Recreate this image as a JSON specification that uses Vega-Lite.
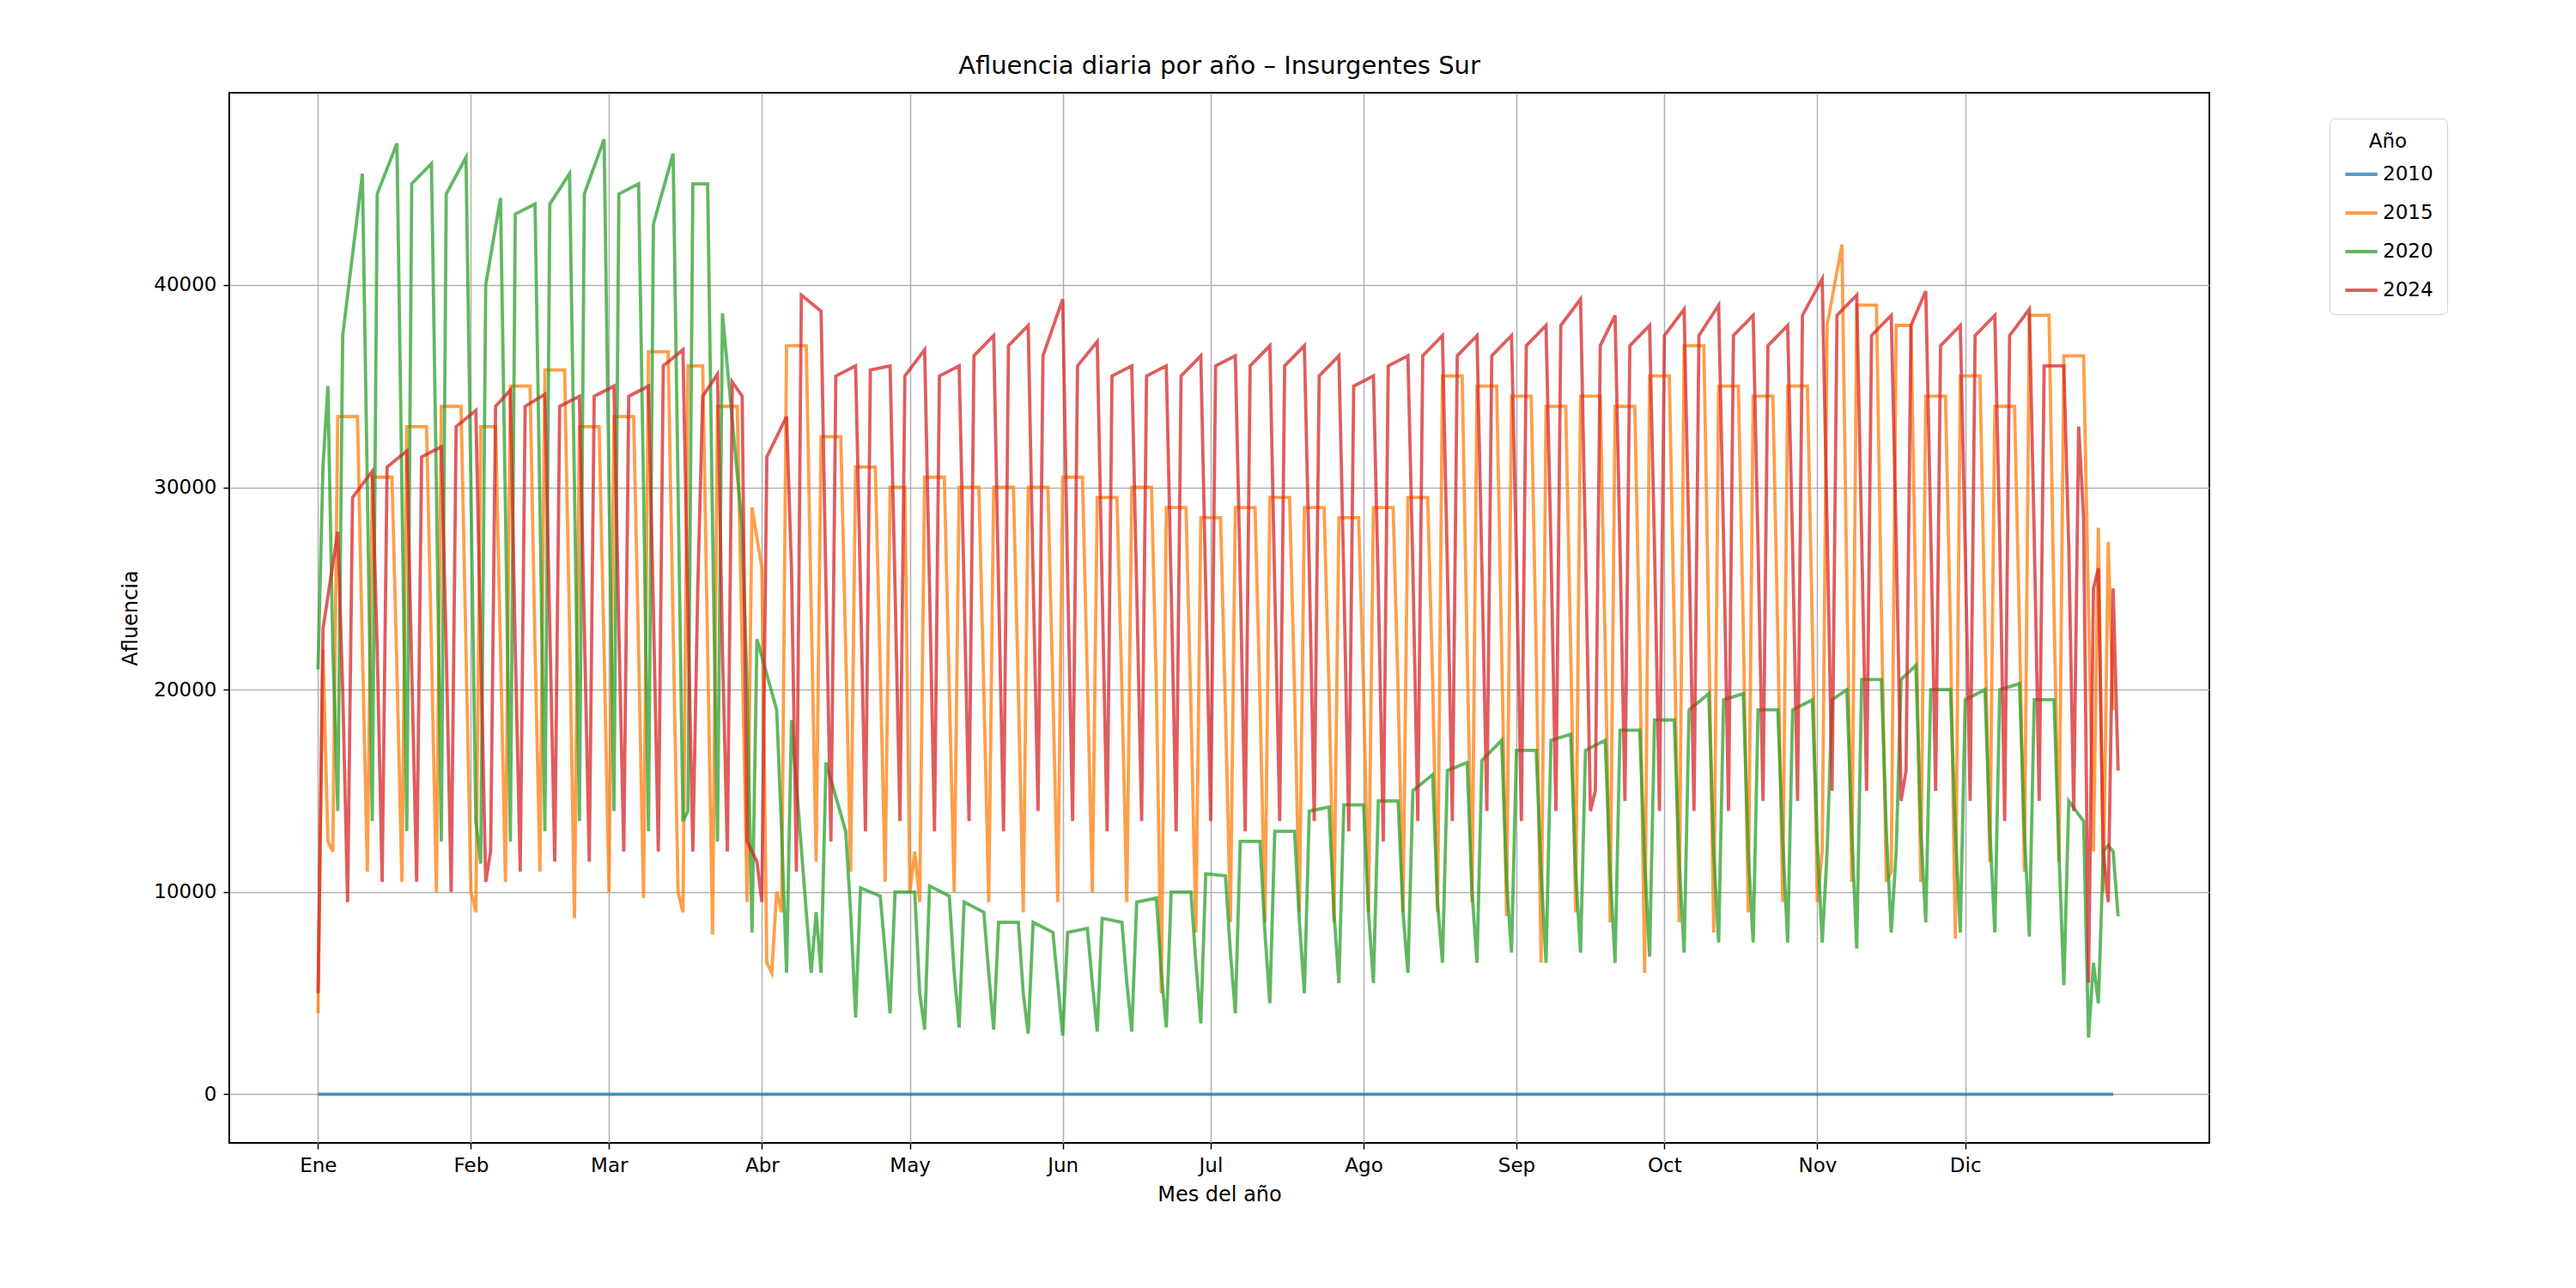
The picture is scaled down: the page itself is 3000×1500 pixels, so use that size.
{
  "$schema": "https://vega.github.io/schema/vega-lite/v6.json",
  "autosize": "none",
  "width": 2306,
  "height": 1223,
  "padding": {"left": 267, "top": 108, "right": 427, "bottom": 169},
  "background": "white",
  "title": {"text": "Afluencia diaria por año – Insurgentes Sur", "fontSize": 29, "font": "DejaVu Sans", "fontWeight": "normal", "offset": 16},
  "config": {
    "font": "DejaVu Sans",
    "view": {"stroke": "black", "strokeWidth": 2},
    "axis": {"labelFont": "DejaVu Sans", "titleFont": "DejaVu Sans", "labelFontSize": 23, "titleFontSize": 24, "titleFontWeight": "normal", "labelColor": "black", "titleColor": "black", "gridColor": "#b0b0b0", "gridWidth": 1.5, "tickColor": "black", "tickSize": 7, "tickWidth": 1.5, "domain": false}
  },
  "data": {"values": [
    {"a":"2010","d":1,"v":0},{"a":"2010","d":365,"v":0},

    {"a":"2015","d":1,"v":4000},{"a":"2015","d":2,"v":22000},{"a":"2015","d":3,"v":12500},{"a":"2015","d":4,"v":12000},
    {"a":"2015","d":5,"v":33500},{"a":"2015","d":9,"v":33500},{"a":"2015","d":10,"v":22000},{"a":"2015","d":11,"v":11000},
    {"a":"2015","d":12,"v":30500},{"a":"2015","d":16,"v":30500},{"a":"2015","d":17,"v":21000},{"a":"2015","d":18,"v":10500},
    {"a":"2015","d":19,"v":33000},{"a":"2015","d":23,"v":33000},{"a":"2015","d":24,"v":22000},{"a":"2015","d":25,"v":10000},
    {"a":"2015","d":26,"v":34000},{"a":"2015","d":30,"v":34000},{"a":"2015","d":31,"v":22000},{"a":"2015","d":32,"v":10000},
    {"a":"2015","d":33,"v":9000},{"a":"2015","d":34,"v":33000},{"a":"2015","d":37,"v":33000},{"a":"2015","d":38,"v":22000},{"a":"2015","d":39,"v":10500},
    {"a":"2015","d":40,"v":35000},{"a":"2015","d":44,"v":35000},{"a":"2015","d":45,"v":22000},{"a":"2015","d":46,"v":11000},
    {"a":"2015","d":47,"v":35800},{"a":"2015","d":51,"v":35800},{"a":"2015","d":52,"v":23000},{"a":"2015","d":53,"v":8700},
    {"a":"2015","d":54,"v":33000},{"a":"2015","d":58,"v":33000},{"a":"2015","d":59,"v":22000},{"a":"2015","d":60,"v":10000},
    {"a":"2015","d":61,"v":33500},{"a":"2015","d":65,"v":33500},{"a":"2015","d":66,"v":22000},{"a":"2015","d":67,"v":9700},
    {"a":"2015","d":68,"v":36700},{"a":"2015","d":72,"v":36700},{"a":"2015","d":73,"v":23000},{"a":"2015","d":74,"v":10000},
    {"a":"2015","d":75,"v":9000},{"a":"2015","d":76,"v":36000},{"a":"2015","d":79,"v":36000},{"a":"2015","d":80,"v":22000},{"a":"2015","d":81,"v":7900},
    {"a":"2015","d":82,"v":34000},{"a":"2015","d":86,"v":34000},{"a":"2015","d":87,"v":22000},{"a":"2015","d":88,"v":9500},
    {"a":"2015","d":89,"v":29000},{"a":"2015","d":91,"v":26000},{"a":"2015","d":92,"v":6500},{"a":"2015","d":93,"v":6000},{"a":"2015","d":94,"v":10000},{"a":"2015","d":95,"v":9000},
    {"a":"2015","d":96,"v":37000},{"a":"2015","d":100,"v":37000},{"a":"2015","d":101,"v":24000},{"a":"2015","d":102,"v":11500},
    {"a":"2015","d":103,"v":32500},{"a":"2015","d":107,"v":32500},{"a":"2015","d":108,"v":22000},{"a":"2015","d":109,"v":11000},
    {"a":"2015","d":110,"v":31000},{"a":"2015","d":114,"v":31000},{"a":"2015","d":115,"v":21000},{"a":"2015","d":116,"v":10500},
    {"a":"2015","d":117,"v":30000},{"a":"2015","d":120,"v":30000},{"a":"2015","d":121,"v":10000},{"a":"2015","d":122,"v":12000},{"a":"2015","d":123,"v":9500},
    {"a":"2015","d":124,"v":30500},{"a":"2015","d":128,"v":30500},{"a":"2015","d":129,"v":20000},{"a":"2015","d":130,"v":10000},
    {"a":"2015","d":131,"v":30000},{"a":"2015","d":135,"v":30000},{"a":"2015","d":136,"v":20000},{"a":"2015","d":137,"v":9500},
    {"a":"2015","d":138,"v":30000},{"a":"2015","d":142,"v":30000},{"a":"2015","d":143,"v":20000},{"a":"2015","d":144,"v":9000},
    {"a":"2015","d":145,"v":30000},{"a":"2015","d":149,"v":30000},{"a":"2015","d":150,"v":20000},{"a":"2015","d":151,"v":9500},
    {"a":"2015","d":152,"v":30500},{"a":"2015","d":156,"v":30500},{"a":"2015","d":157,"v":20500},{"a":"2015","d":158,"v":10000},
    {"a":"2015","d":159,"v":29500},{"a":"2015","d":163,"v":29500},{"a":"2015","d":164,"v":20000},{"a":"2015","d":165,"v":9500},
    {"a":"2015","d":166,"v":30000},{"a":"2015","d":170,"v":30000},{"a":"2015","d":171,"v":20000},{"a":"2015","d":172,"v":5000},
    {"a":"2015","d":173,"v":29000},{"a":"2015","d":177,"v":29000},{"a":"2015","d":178,"v":19000},{"a":"2015","d":179,"v":8000},
    {"a":"2015","d":180,"v":28500},{"a":"2015","d":184,"v":28500},{"a":"2015","d":185,"v":19000},{"a":"2015","d":186,"v":8500},
    {"a":"2015","d":187,"v":29000},{"a":"2015","d":191,"v":29000},{"a":"2015","d":192,"v":19500},{"a":"2015","d":193,"v":8500},
    {"a":"2015","d":194,"v":29500},{"a":"2015","d":198,"v":29500},{"a":"2015","d":199,"v":20000},{"a":"2015","d":200,"v":9000},
    {"a":"2015","d":201,"v":29000},{"a":"2015","d":205,"v":29000},{"a":"2015","d":206,"v":20000},{"a":"2015","d":207,"v":8500},
    {"a":"2015","d":208,"v":28500},{"a":"2015","d":212,"v":28500},{"a":"2015","d":213,"v":20000},{"a":"2015","d":214,"v":9000},
    {"a":"2015","d":215,"v":29000},{"a":"2015","d":219,"v":29000},{"a":"2015","d":220,"v":20000},{"a":"2015","d":221,"v":9000},
    {"a":"2015","d":222,"v":29500},{"a":"2015","d":226,"v":29500},{"a":"2015","d":227,"v":20500},{"a":"2015","d":228,"v":9000},
    {"a":"2015","d":229,"v":35500},{"a":"2015","d":233,"v":35500},{"a":"2015","d":234,"v":22000},{"a":"2015","d":235,"v":9500},
    {"a":"2015","d":236,"v":35000},{"a":"2015","d":240,"v":35000},{"a":"2015","d":241,"v":22000},{"a":"2015","d":242,"v":8800},
    {"a":"2015","d":243,"v":34500},{"a":"2015","d":247,"v":34500},{"a":"2015","d":248,"v":22000},{"a":"2015","d":249,"v":6500},
    {"a":"2015","d":250,"v":34000},{"a":"2015","d":254,"v":34000},{"a":"2015","d":255,"v":22000},{"a":"2015","d":256,"v":9000},
    {"a":"2015","d":257,"v":34500},{"a":"2015","d":261,"v":34500},{"a":"2015","d":262,"v":22000},{"a":"2015","d":263,"v":8500},
    {"a":"2015","d":264,"v":34000},{"a":"2015","d":268,"v":34000},{"a":"2015","d":269,"v":22000},{"a":"2015","d":270,"v":6000},
    {"a":"2015","d":271,"v":35500},{"a":"2015","d":275,"v":35500},{"a":"2015","d":276,"v":23000},{"a":"2015","d":277,"v":8500},
    {"a":"2015","d":278,"v":37000},{"a":"2015","d":282,"v":37000},{"a":"2015","d":283,"v":23000},{"a":"2015","d":284,"v":8000},
    {"a":"2015","d":285,"v":35000},{"a":"2015","d":289,"v":35000},{"a":"2015","d":290,"v":23000},{"a":"2015","d":291,"v":9000},
    {"a":"2015","d":292,"v":34500},{"a":"2015","d":296,"v":34500},{"a":"2015","d":297,"v":22500},{"a":"2015","d":298,"v":9500},
    {"a":"2015","d":299,"v":35000},{"a":"2015","d":303,"v":35000},{"a":"2015","d":304,"v":23000},{"a":"2015","d":305,"v":9500},
    {"a":"2015","d":306,"v":12000},{"a":"2015","d":307,"v":38000},{"a":"2015","d":310,"v":42000},{"a":"2015","d":311,"v":25000},{"a":"2015","d":312,"v":10500},
    {"a":"2015","d":313,"v":39000},{"a":"2015","d":317,"v":39000},{"a":"2015","d":318,"v":24000},{"a":"2015","d":319,"v":10500},
    {"a":"2015","d":320,"v":11000},{"a":"2015","d":321,"v":38000},{"a":"2015","d":324,"v":38000},{"a":"2015","d":325,"v":24000},{"a":"2015","d":326,"v":10500},
    {"a":"2015","d":327,"v":34500},{"a":"2015","d":331,"v":34500},{"a":"2015","d":332,"v":23000},{"a":"2015","d":333,"v":7700},
    {"a":"2015","d":334,"v":35500},{"a":"2015","d":338,"v":35500},{"a":"2015","d":339,"v":23000},{"a":"2015","d":340,"v":11500},
    {"a":"2015","d":341,"v":34000},{"a":"2015","d":345,"v":34000},{"a":"2015","d":346,"v":23000},{"a":"2015","d":347,"v":11000},
    {"a":"2015","d":348,"v":38500},{"a":"2015","d":352,"v":38500},{"a":"2015","d":353,"v":24000},{"a":"2015","d":354,"v":11500},
    {"a":"2015","d":355,"v":36500},{"a":"2015","d":359,"v":36500},{"a":"2015","d":360,"v":24000},{"a":"2015","d":361,"v":12000},
    {"a":"2015","d":362,"v":28000},{"a":"2015","d":363,"v":10000},{"a":"2015","d":364,"v":27300},{"a":"2015","d":365,"v":19000},

    {"a":"2020","d":1,"v":21000},{"a":"2020","d":2,"v":31000},{"a":"2020","d":3,"v":35000},{"a":"2020","d":4,"v":22000},{"a":"2020","d":5,"v":14000},
    {"a":"2020","d":6,"v":37500},{"a":"2020","d":10,"v":45500},{"a":"2020","d":11,"v":30000},{"a":"2020","d":12,"v":13500},
    {"a":"2020","d":13,"v":44500},{"a":"2020","d":17,"v":47000},{"a":"2020","d":18,"v":30000},{"a":"2020","d":19,"v":13000},
    {"a":"2020","d":20,"v":45000},{"a":"2020","d":24,"v":46000},{"a":"2020","d":25,"v":30000},{"a":"2020","d":26,"v":12500},
    {"a":"2020","d":27,"v":44500},{"a":"2020","d":31,"v":46300},{"a":"2020","d":32,"v":30000},{"a":"2020","d":33,"v":13500},
    {"a":"2020","d":34,"v":11400},{"a":"2020","d":35,"v":40000},{"a":"2020","d":38,"v":44300},{"a":"2020","d":39,"v":29000},{"a":"2020","d":40,"v":12500},
    {"a":"2020","d":41,"v":43500},{"a":"2020","d":45,"v":44000},{"a":"2020","d":46,"v":29000},{"a":"2020","d":47,"v":13000},
    {"a":"2020","d":48,"v":44000},{"a":"2020","d":52,"v":45500},{"a":"2020","d":53,"v":30000},{"a":"2020","d":54,"v":13500},
    {"a":"2020","d":55,"v":44500},{"a":"2020","d":59,"v":47200},{"a":"2020","d":60,"v":30000},{"a":"2020","d":61,"v":14000},
    {"a":"2020","d":62,"v":44500},{"a":"2020","d":66,"v":45000},{"a":"2020","d":67,"v":30000},{"a":"2020","d":68,"v":13000},
    {"a":"2020","d":69,"v":43000},{"a":"2020","d":73,"v":46500},{"a":"2020","d":74,"v":30000},{"a":"2020","d":75,"v":13500},
    {"a":"2020","d":76,"v":14000},{"a":"2020","d":77,"v":45000},{"a":"2020","d":80,"v":45000},{"a":"2020","d":81,"v":28000},{"a":"2020","d":82,"v":12500},
    {"a":"2020","d":83,"v":38600},{"a":"2020","d":87,"v":28000},{"a":"2020","d":88,"v":20000},{"a":"2020","d":89,"v":8000},
    {"a":"2020","d":90,"v":22500},{"a":"2020","d":94,"v":19000},{"a":"2020","d":95,"v":13000},{"a":"2020","d":96,"v":6000},
    {"a":"2020","d":97,"v":18500},{"a":"2020","d":100,"v":9000},{"a":"2020","d":101,"v":6000},{"a":"2020","d":102,"v":9000},{"a":"2020","d":103,"v":6000},
    {"a":"2020","d":104,"v":16400},{"a":"2020","d":108,"v":13000},{"a":"2020","d":109,"v":9000},{"a":"2020","d":110,"v":3800},
    {"a":"2020","d":111,"v":10200},{"a":"2020","d":115,"v":9800},{"a":"2020","d":116,"v":7000},{"a":"2020","d":117,"v":4000},
    {"a":"2020","d":118,"v":10000},{"a":"2020","d":122,"v":10000},{"a":"2020","d":123,"v":5000},{"a":"2020","d":124,"v":3200},
    {"a":"2020","d":125,"v":10300},{"a":"2020","d":129,"v":9800},{"a":"2020","d":130,"v":6000},{"a":"2020","d":131,"v":3300},
    {"a":"2020","d":132,"v":9500},{"a":"2020","d":136,"v":9000},{"a":"2020","d":137,"v":6000},{"a":"2020","d":138,"v":3200},
    {"a":"2020","d":139,"v":8500},{"a":"2020","d":143,"v":8500},{"a":"2020","d":144,"v":5000},{"a":"2020","d":145,"v":3000},
    {"a":"2020","d":146,"v":8500},{"a":"2020","d":150,"v":8000},{"a":"2020","d":151,"v":5500},{"a":"2020","d":152,"v":2900},
    {"a":"2020","d":153,"v":8000},{"a":"2020","d":157,"v":8200},{"a":"2020","d":158,"v":5500},{"a":"2020","d":159,"v":3100},
    {"a":"2020","d":160,"v":8700},{"a":"2020","d":164,"v":8500},{"a":"2020","d":165,"v":5500},{"a":"2020","d":166,"v":3100},
    {"a":"2020","d":167,"v":9500},{"a":"2020","d":171,"v":9700},{"a":"2020","d":172,"v":6000},{"a":"2020","d":173,"v":3300},
    {"a":"2020","d":174,"v":10000},{"a":"2020","d":178,"v":10000},{"a":"2020","d":179,"v":6500},{"a":"2020","d":180,"v":3500},
    {"a":"2020","d":181,"v":10900},{"a":"2020","d":185,"v":10800},{"a":"2020","d":186,"v":7000},{"a":"2020","d":187,"v":4000},
    {"a":"2020","d":188,"v":12500},{"a":"2020","d":192,"v":12500},{"a":"2020","d":193,"v":8000},{"a":"2020","d":194,"v":4500},
    {"a":"2020","d":195,"v":13000},{"a":"2020","d":199,"v":13000},{"a":"2020","d":200,"v":8500},{"a":"2020","d":201,"v":5000},
    {"a":"2020","d":202,"v":14000},{"a":"2020","d":206,"v":14200},{"a":"2020","d":207,"v":9000},{"a":"2020","d":208,"v":5500},
    {"a":"2020","d":209,"v":14300},{"a":"2020","d":213,"v":14300},{"a":"2020","d":214,"v":9000},{"a":"2020","d":215,"v":5500},
    {"a":"2020","d":216,"v":14500},{"a":"2020","d":220,"v":14500},{"a":"2020","d":221,"v":9000},{"a":"2020","d":222,"v":6000},
    {"a":"2020","d":223,"v":15000},{"a":"2020","d":227,"v":15800},{"a":"2020","d":228,"v":9500},{"a":"2020","d":229,"v":6500},
    {"a":"2020","d":230,"v":16000},{"a":"2020","d":234,"v":16400},{"a":"2020","d":235,"v":10000},{"a":"2020","d":236,"v":6500},
    {"a":"2020","d":237,"v":16500},{"a":"2020","d":241,"v":17500},{"a":"2020","d":242,"v":10500},{"a":"2020","d":243,"v":7000},
    {"a":"2020","d":244,"v":17000},{"a":"2020","d":248,"v":17000},{"a":"2020","d":249,"v":11000},{"a":"2020","d":250,"v":6500},
    {"a":"2020","d":251,"v":17500},{"a":"2020","d":255,"v":17800},{"a":"2020","d":256,"v":11000},{"a":"2020","d":257,"v":7000},
    {"a":"2020","d":258,"v":17000},{"a":"2020","d":262,"v":17500},{"a":"2020","d":263,"v":11000},{"a":"2020","d":264,"v":6500},
    {"a":"2020","d":265,"v":18000},{"a":"2020","d":269,"v":18000},{"a":"2020","d":270,"v":11500},{"a":"2020","d":271,"v":6800},
    {"a":"2020","d":272,"v":18500},{"a":"2020","d":276,"v":18500},{"a":"2020","d":277,"v":11500},{"a":"2020","d":278,"v":7000},
    {"a":"2020","d":279,"v":19000},{"a":"2020","d":283,"v":19800},{"a":"2020","d":284,"v":12000},{"a":"2020","d":285,"v":7500},
    {"a":"2020","d":286,"v":19500},{"a":"2020","d":290,"v":19800},{"a":"2020","d":291,"v":12000},{"a":"2020","d":292,"v":7500},
    {"a":"2020","d":293,"v":19000},{"a":"2020","d":297,"v":19000},{"a":"2020","d":298,"v":12500},{"a":"2020","d":299,"v":7500},
    {"a":"2020","d":300,"v":19000},{"a":"2020","d":304,"v":19500},{"a":"2020","d":305,"v":12500},{"a":"2020","d":306,"v":7500},
    {"a":"2020","d":307,"v":12000},{"a":"2020","d":308,"v":19500},{"a":"2020","d":311,"v":20000},{"a":"2020","d":312,"v":13000},{"a":"2020","d":313,"v":7200},
    {"a":"2020","d":314,"v":20500},{"a":"2020","d":318,"v":20500},{"a":"2020","d":319,"v":13000},{"a":"2020","d":320,"v":8000},
    {"a":"2020","d":321,"v":12000},{"a":"2020","d":322,"v":20500},{"a":"2020","d":325,"v":21200},{"a":"2020","d":326,"v":13000},{"a":"2020","d":327,"v":8500},
    {"a":"2020","d":328,"v":20000},{"a":"2020","d":332,"v":20000},{"a":"2020","d":333,"v":13000},{"a":"2020","d":334,"v":8000},
    {"a":"2020","d":335,"v":19500},{"a":"2020","d":339,"v":20000},{"a":"2020","d":340,"v":13000},{"a":"2020","d":341,"v":8000},
    {"a":"2020","d":342,"v":20000},{"a":"2020","d":346,"v":20300},{"a":"2020","d":347,"v":13000},{"a":"2020","d":348,"v":7800},
    {"a":"2020","d":349,"v":19500},{"a":"2020","d":353,"v":19500},{"a":"2020","d":354,"v":12000},{"a":"2020","d":355,"v":5400},
    {"a":"2020","d":356,"v":14500},{"a":"2020","d":359,"v":13500},{"a":"2020","d":360,"v":2800},{"a":"2020","d":361,"v":6500},{"a":"2020","d":362,"v":4500},
    {"a":"2020","d":363,"v":12000},{"a":"2020","d":364,"v":12300},{"a":"2020","d":365,"v":12000},{"a":"2020","d":366,"v":8800},

    {"a":"2024","d":1,"v":5000},{"a":"2024","d":2,"v":23000},{"a":"2024","d":5,"v":27800},{"a":"2024","d":6,"v":20000},{"a":"2024","d":7,"v":9500},
    {"a":"2024","d":8,"v":29500},{"a":"2024","d":12,"v":30800},{"a":"2024","d":13,"v":22000},{"a":"2024","d":14,"v":10500},
    {"a":"2024","d":15,"v":31000},{"a":"2024","d":19,"v":31800},{"a":"2024","d":20,"v":21000},{"a":"2024","d":21,"v":10500},
    {"a":"2024","d":22,"v":31500},{"a":"2024","d":26,"v":32000},{"a":"2024","d":27,"v":22000},{"a":"2024","d":28,"v":10000},
    {"a":"2024","d":29,"v":33000},{"a":"2024","d":33,"v":33800},{"a":"2024","d":34,"v":22000},{"a":"2024","d":35,"v":10500},
    {"a":"2024","d":36,"v":12000},{"a":"2024","d":37,"v":34000},{"a":"2024","d":40,"v":34800},{"a":"2024","d":41,"v":22000},{"a":"2024","d":42,"v":11000},
    {"a":"2024","d":43,"v":34000},{"a":"2024","d":47,"v":34600},{"a":"2024","d":48,"v":23000},{"a":"2024","d":49,"v":11500},
    {"a":"2024","d":50,"v":34000},{"a":"2024","d":54,"v":34500},{"a":"2024","d":55,"v":23000},{"a":"2024","d":56,"v":11500},
    {"a":"2024","d":57,"v":34500},{"a":"2024","d":61,"v":35000},{"a":"2024","d":62,"v":23000},{"a":"2024","d":63,"v":12000},
    {"a":"2024","d":64,"v":34500},{"a":"2024","d":68,"v":35000},{"a":"2024","d":69,"v":24000},{"a":"2024","d":70,"v":12000},
    {"a":"2024","d":71,"v":36000},{"a":"2024","d":75,"v":36800},{"a":"2024","d":76,"v":24000},{"a":"2024","d":77,"v":12000},
    {"a":"2024","d":78,"v":25000},{"a":"2024","d":79,"v":34500},{"a":"2024","d":82,"v":35600},{"a":"2024","d":83,"v":22000},{"a":"2024","d":84,"v":12000},
    {"a":"2024","d":85,"v":35200},{"a":"2024","d":87,"v":34500},{"a":"2024","d":88,"v":12500},{"a":"2024","d":89,"v":12000},{"a":"2024","d":90,"v":11500},{"a":"2024","d":91,"v":9500},
    {"a":"2024","d":92,"v":31500},{"a":"2024","d":96,"v":33500},{"a":"2024","d":97,"v":26000},{"a":"2024","d":98,"v":11000},
    {"a":"2024","d":99,"v":39500},{"a":"2024","d":103,"v":38700},{"a":"2024","d":104,"v":25000},{"a":"2024","d":105,"v":12500},
    {"a":"2024","d":106,"v":35500},{"a":"2024","d":110,"v":36000},{"a":"2024","d":111,"v":25000},{"a":"2024","d":112,"v":13000},
    {"a":"2024","d":113,"v":35800},{"a":"2024","d":117,"v":36000},{"a":"2024","d":118,"v":25000},{"a":"2024","d":119,"v":13500},
    {"a":"2024","d":120,"v":35500},{"a":"2024","d":124,"v":36800},{"a":"2024","d":125,"v":25000},{"a":"2024","d":126,"v":13000},
    {"a":"2024","d":127,"v":35500},{"a":"2024","d":131,"v":36000},{"a":"2024","d":132,"v":25000},{"a":"2024","d":133,"v":13500},
    {"a":"2024","d":134,"v":36500},{"a":"2024","d":138,"v":37500},{"a":"2024","d":139,"v":25000},{"a":"2024","d":140,"v":13000},
    {"a":"2024","d":141,"v":37000},{"a":"2024","d":145,"v":38000},{"a":"2024","d":146,"v":25500},{"a":"2024","d":147,"v":14000},
    {"a":"2024","d":148,"v":36500},{"a":"2024","d":152,"v":39300},{"a":"2024","d":153,"v":25500},{"a":"2024","d":154,"v":13500},
    {"a":"2024","d":155,"v":36000},{"a":"2024","d":159,"v":37200},{"a":"2024","d":160,"v":25000},{"a":"2024","d":161,"v":13000},
    {"a":"2024","d":162,"v":35500},{"a":"2024","d":166,"v":36000},{"a":"2024","d":167,"v":25000},{"a":"2024","d":168,"v":13500},
    {"a":"2024","d":169,"v":35500},{"a":"2024","d":173,"v":36000},{"a":"2024","d":174,"v":25000},{"a":"2024","d":175,"v":13000},
    {"a":"2024","d":176,"v":35500},{"a":"2024","d":180,"v":36500},{"a":"2024","d":181,"v":25000},{"a":"2024","d":182,"v":13500},
    {"a":"2024","d":183,"v":36000},{"a":"2024","d":187,"v":36500},{"a":"2024","d":188,"v":25500},{"a":"2024","d":189,"v":13000},
    {"a":"2024","d":190,"v":36000},{"a":"2024","d":194,"v":37000},{"a":"2024","d":195,"v":25000},{"a":"2024","d":196,"v":13500},
    {"a":"2024","d":197,"v":36000},{"a":"2024","d":201,"v":37000},{"a":"2024","d":202,"v":26000},{"a":"2024","d":203,"v":13500},
    {"a":"2024","d":204,"v":35500},{"a":"2024","d":208,"v":36500},{"a":"2024","d":209,"v":25500},{"a":"2024","d":210,"v":13000},
    {"a":"2024","d":211,"v":35000},{"a":"2024","d":215,"v":35500},{"a":"2024","d":216,"v":25000},{"a":"2024","d":217,"v":12500},
    {"a":"2024","d":218,"v":36000},{"a":"2024","d":222,"v":36500},{"a":"2024","d":223,"v":26000},{"a":"2024","d":224,"v":13500},
    {"a":"2024","d":225,"v":36500},{"a":"2024","d":229,"v":37500},{"a":"2024","d":230,"v":26000},{"a":"2024","d":231,"v":13500},
    {"a":"2024","d":232,"v":36500},{"a":"2024","d":236,"v":37500},{"a":"2024","d":237,"v":26000},{"a":"2024","d":238,"v":14000},
    {"a":"2024","d":239,"v":36500},{"a":"2024","d":243,"v":37500},{"a":"2024","d":244,"v":26500},{"a":"2024","d":245,"v":13500},
    {"a":"2024","d":246,"v":37000},{"a":"2024","d":250,"v":38000},{"a":"2024","d":251,"v":27000},{"a":"2024","d":252,"v":14000},
    {"a":"2024","d":253,"v":38000},{"a":"2024","d":257,"v":39300},{"a":"2024","d":258,"v":27000},{"a":"2024","d":259,"v":14000},
    {"a":"2024","d":260,"v":15000},{"a":"2024","d":261,"v":37000},{"a":"2024","d":264,"v":38500},{"a":"2024","d":265,"v":27000},{"a":"2024","d":266,"v":14500},
    {"a":"2024","d":267,"v":37000},{"a":"2024","d":271,"v":38000},{"a":"2024","d":272,"v":27000},{"a":"2024","d":273,"v":14000},
    {"a":"2024","d":274,"v":37500},{"a":"2024","d":278,"v":38800},{"a":"2024","d":279,"v":27000},{"a":"2024","d":280,"v":14000},
    {"a":"2024","d":281,"v":37500},{"a":"2024","d":285,"v":39000},{"a":"2024","d":286,"v":27500},{"a":"2024","d":287,"v":14000},
    {"a":"2024","d":288,"v":37500},{"a":"2024","d":292,"v":38500},{"a":"2024","d":293,"v":27000},{"a":"2024","d":294,"v":14500},
    {"a":"2024","d":295,"v":37000},{"a":"2024","d":299,"v":38000},{"a":"2024","d":300,"v":27000},{"a":"2024","d":301,"v":14500},
    {"a":"2024","d":302,"v":38500},{"a":"2024","d":306,"v":40300},{"a":"2024","d":307,"v":28000},{"a":"2024","d":308,"v":15000},
    {"a":"2024","d":309,"v":38500},{"a":"2024","d":313,"v":39500},{"a":"2024","d":314,"v":27500},{"a":"2024","d":315,"v":15000},
    {"a":"2024","d":316,"v":37500},{"a":"2024","d":320,"v":38500},{"a":"2024","d":321,"v":27500},{"a":"2024","d":322,"v":14500},
    {"a":"2024","d":323,"v":16000},{"a":"2024","d":324,"v":38000},{"a":"2024","d":327,"v":39700},{"a":"2024","d":328,"v":28000},{"a":"2024","d":329,"v":15000},
    {"a":"2024","d":330,"v":37000},{"a":"2024","d":334,"v":38000},{"a":"2024","d":335,"v":27000},{"a":"2024","d":336,"v":14500},
    {"a":"2024","d":337,"v":37500},{"a":"2024","d":341,"v":38500},{"a":"2024","d":342,"v":27500},{"a":"2024","d":343,"v":13500},
    {"a":"2024","d":344,"v":37500},{"a":"2024","d":348,"v":38800},{"a":"2024","d":349,"v":27500},{"a":"2024","d":350,"v":14500},
    {"a":"2024","d":351,"v":36000},{"a":"2024","d":355,"v":36000},{"a":"2024","d":356,"v":27000},{"a":"2024","d":357,"v":14000},
    {"a":"2024","d":358,"v":33000},{"a":"2024","d":359,"v":28500},{"a":"2024","d":360,"v":5500},{"a":"2024","d":361,"v":25000},{"a":"2024","d":362,"v":26000},{"a":"2024","d":363,"v":12000},{"a":"2024","d":364,"v":9500},{"a":"2024","d":365,"v":25000},{"a":"2024","d":366,"v":16000}
  ]},
  "mark": {"type": "line", "strokeWidth": 3.8, "opacity": 0.75},
  "encoding": {
    "x": {
      "field": "d", "type": "quantitative", "title": "Mes del año",
      "scale": {"domain": [-17, 384.5], "nice": false, "zero": false},
      "axis": {"values": [1, 32, 60, 91, 121, 152, 182, 213, 244, 274, 305, 335],
        "labelExpr": "['Ene','Feb','Mar','Abr','May','Jun','Jul','Ago','Sep','Oct','Nov','Dic'][indexof([1,32,60,91,121,152,182,213,244,274,305,335], datum.value)]",
        "labelPadding": 8, "titlePadding": 10}
    },
    "y": {
      "field": "v", "type": "quantitative", "title": "Afluencia",
      "scale": {"domain": [-2400, 49500], "nice": false, "zero": false},
      "axis": {"values": [0, 10000, 20000, 30000, 40000], "format": "d", "labelPadding": 8, "titlePadding": 14}
    },
    "color": {
      "field": "a", "type": "nominal", "title": "Año",
      "scale": {"domain": ["2010", "2015", "2020", "2024"], "range": ["#1f77b4", "#ff7f0e", "#2ca02c", "#d62728"]},
      "legend": {"orient": "none", "legendX": 2446, "legendY": 30, "symbolType": "stroke", "symbolStrokeWidth": 3.8, "symbolSize": 1400, "symbolOpacity": 0.75,
        "labelFontSize": 23, "titleFontSize": 23, "titleFontWeight": "normal", "titleAnchor": "middle", "rowPadding": 12,
        "strokeColor": "#d0d0d0", "fillColor": "white", "padding": 16, "cornerRadius": 6, "labelFont": "DejaVu Sans", "titleFont": "DejaVu Sans"}
    }
  }
}
